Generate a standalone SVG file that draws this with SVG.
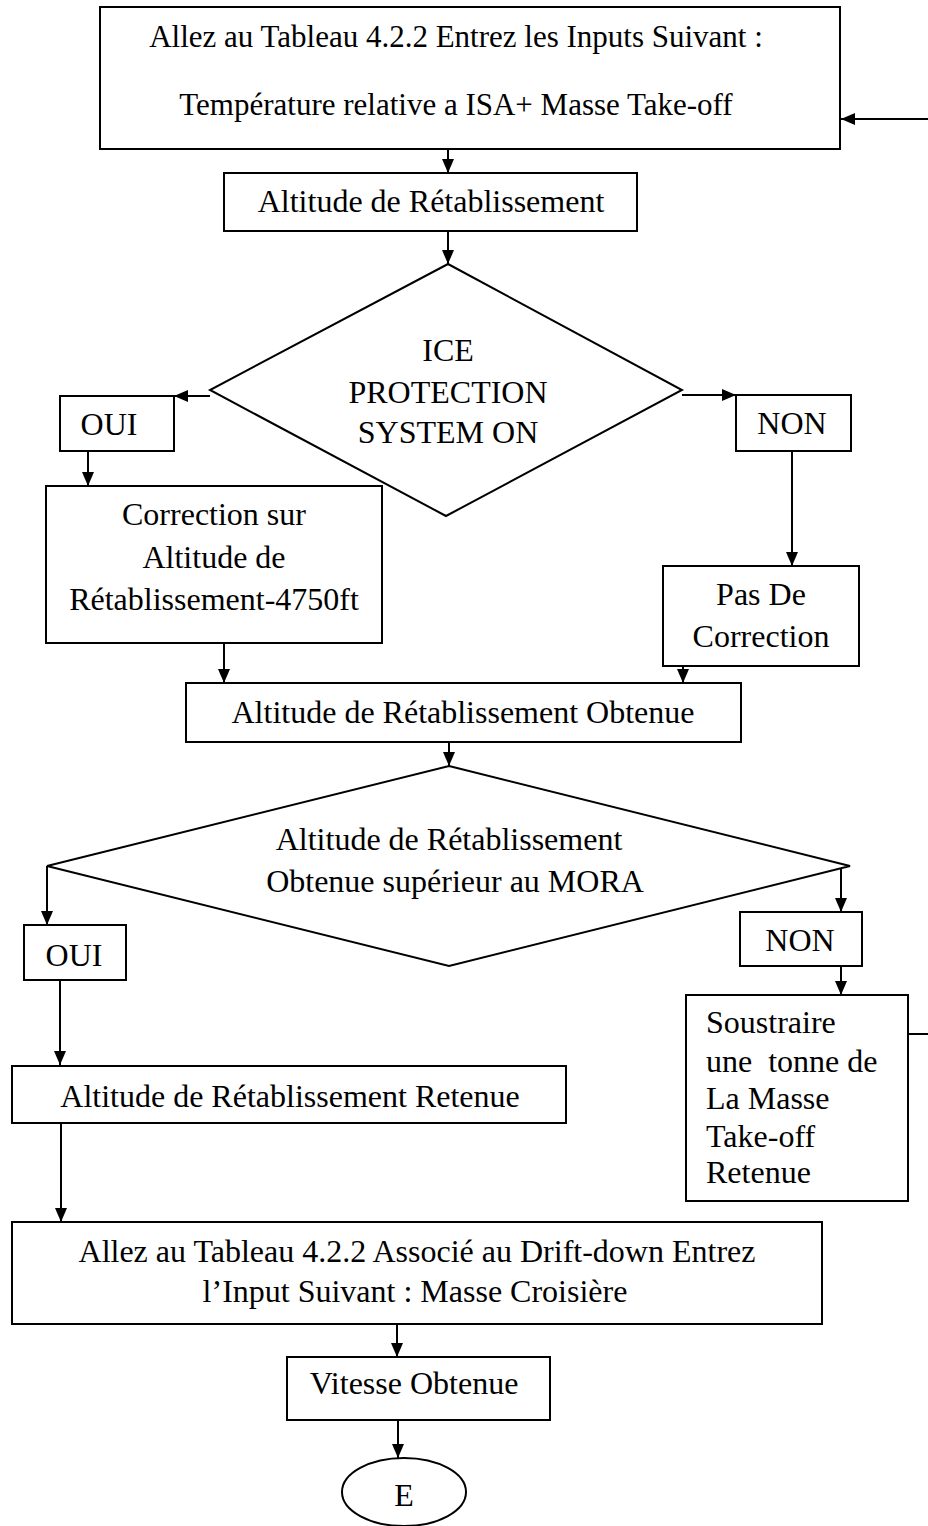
<svg xmlns="http://www.w3.org/2000/svg" width="928" height="1526" viewBox="0 0 928 1526">
  <style>
    .box { fill: #fff; stroke: #000; stroke-width: 2; }
    .lbl { font-family: "Liberation Serif", "Times New Roman", serif; font-size: 32px; fill: #000; text-anchor: middle; }
    .left { text-anchor: start; }
    .wire { fill: none; stroke: #000; stroke-width: 2; }
    .arrow { marker-end: url(#head); }
  </style>
  <defs>
    <marker id="head" viewBox="0 0 14 12" refX="14" refY="6" markerWidth="14" markerHeight="12" markerUnits="userSpaceOnUse" orient="auto">
      <path d="M0,0 L14,6 L0,12 Z" fill="#000"/>
    </marker>
  </defs>
  <rect width="928" height="1526" fill="#fff"/>

  <g id="connectors">
    <line class="wire arrow" x1="928" y1="119" x2="841" y2="119"/>
    <line class="wire arrow" x1="448" y1="149" x2="448" y2="173"/>
    <line class="wire arrow" x1="448" y1="231" x2="448" y2="264"/>
    <line class="wire arrow" x1="210" y1="396" x2="174" y2="396"/>
    <line class="wire arrow" x1="682" y1="395" x2="736" y2="395"/>
    <line class="wire arrow" x1="88" y1="451" x2="88" y2="486"/>
    <line class="wire arrow" x1="792" y1="451" x2="792" y2="566"/>
    <line class="wire arrow" x1="224" y1="643" x2="224" y2="683"/>
    <line class="wire arrow" x1="683" y1="666" x2="683" y2="683"/>
    <line class="wire arrow" x1="449" y1="732" x2="449" y2="766"/>
    <line class="wire arrow" x1="47" y1="866" x2="47" y2="925"/>
    <line class="wire arrow" x1="841" y1="866" x2="841" y2="912"/>
    <line class="wire arrow" x1="60" y1="980" x2="60" y2="1065"/>
    <line class="wire arrow" x1="841" y1="966" x2="841" y2="995"/>
    <line class="wire" x1="908" y1="1034" x2="928" y2="1034"/>
    <line class="wire arrow" x1="61" y1="1123" x2="61" y2="1222"/>
    <line class="wire arrow" x1="397" y1="1325" x2="397" y2="1357"/>
    <line class="wire arrow" x1="398" y1="1420" x2="398" y2="1458"/>
  </g>

  <g id="inputs-start">
    <rect class="box" x="100" y="7" width="740" height="142"/>
    <text class="lbl" x="456" y="47" style="font-size:31px">Allez au Tableau 4.2.2 Entrez les Inputs Suivant :</text>
    <text class="lbl" x="456" y="115" style="font-size:31px">Température relative a ISA+ Masse Take-off</text>
  </g>

  <g id="altitude-retablissement">
    <rect class="box" x="224" y="173" width="413" height="58"/>
    <text class="lbl" x="431" y="212">Altitude de Rétablissement</text>
  </g>

  <g id="ice-protection">
    <polygon class="box" points="448,264 682,390 446,516 210,390"/>
    <text class="lbl" x="448" y="361">ICE</text>
    <text class="lbl" x="448" y="403">PROTECTION</text>
    <text class="lbl" x="448" y="443">SYSTEM ON</text>
  </g>

  <g id="oui-1">
    <rect class="box" x="60" y="396" width="114" height="55"/>
    <text class="lbl" x="109" y="435">OUI</text>
  </g>

  <g id="non-1">
    <rect class="box" x="736" y="395" width="115" height="56"/>
    <text class="lbl" x="792" y="434">NON</text>
  </g>

  <g id="correction">
    <rect class="box" x="46" y="486" width="336" height="157"/>
    <text class="lbl" x="214" y="525">Correction sur</text>
    <text class="lbl" x="214" y="568">Altitude de</text>
    <text class="lbl" x="214" y="610">Rétablissement-4750ft</text>
  </g>

  <g id="pas-de-correction">
    <rect class="box" x="663" y="566" width="196" height="100"/>
    <text class="lbl" x="761" y="605">Pas De</text>
    <text class="lbl" x="761" y="647">Correction</text>
  </g>

  <g id="altitude-obtenue">
    <rect class="box" x="186" y="683" width="555" height="59"/>
    <text class="lbl" x="463" y="723">Altitude de Rétablissement Obtenue</text>
  </g>

  <g id="mora-check">
    <polygon class="box" points="449,766 850,866 449,966 47,866"/>
    <text class="lbl" x="449" y="850">Altitude de Rétablissement</text>
    <text class="lbl" x="455" y="892">Obtenue supérieur au MORA</text>
  </g>

  <g id="oui-2">
    <rect class="box" x="24" y="925" width="102" height="55"/>
    <text class="lbl" x="74" y="966">OUI</text>
  </g>

  <g id="non-2">
    <rect class="box" x="740" y="912" width="122" height="54"/>
    <text class="lbl" x="800" y="951">NON</text>
  </g>

  <g id="soustraire">
    <rect class="box" x="686" y="995" width="222" height="206"/>
    <text class="lbl left" x="706" y="1033">Soustraire</text>
    <text class="lbl left" x="706" y="1072" xml:space="preserve">une  tonne de</text>
    <text class="lbl left" x="706" y="1109">La Masse</text>
    <text class="lbl left" x="706" y="1147">Take-off</text>
    <text class="lbl left" x="706" y="1183">Retenue</text>
  </g>

  <g id="altitude-retenue">
    <rect class="box" x="12" y="1066" width="554" height="57"/>
    <text class="lbl" x="290" y="1107">Altitude de Rétablissement Retenue</text>
  </g>

  <g id="drift-down">
    <rect class="box" x="12" y="1222" width="810" height="102"/>
    <text class="lbl" x="417" y="1262">Allez au Tableau 4.2.2 Associé au Drift-down Entrez</text>
    <text class="lbl" x="415" y="1302">l’Input Suivant : Masse Croisière</text>
  </g>

  <g id="vitesse">
    <rect class="box" x="287" y="1357" width="263" height="63"/>
    <text class="lbl" x="414" y="1394">Vitesse Obtenue</text>
  </g>

  <g id="end-e">
    <ellipse class="box" cx="404" cy="1492" rx="62" ry="34"/>
    <text class="lbl" x="404" y="1506">E</text>
  </g>
</svg>
